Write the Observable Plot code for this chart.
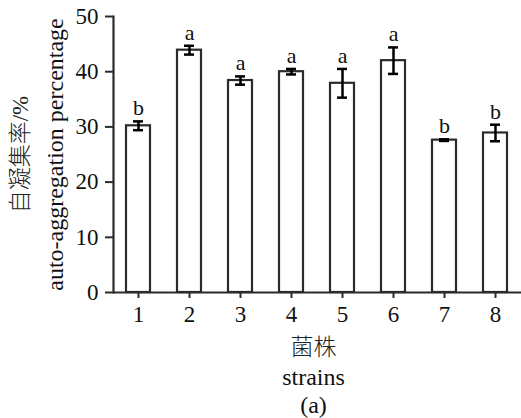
<!DOCTYPE html>
<html>
<head>
<meta charset="utf-8">
<script src="https://cdn.jsdelivr.net/npm/d3@7"></script>
<script src="https://cdn.jsdelivr.net/npm/@observablehq/plot@0.6"></script>
<style>
  html, body { margin: 0; padding: 0; background: #fff; }
  #chart svg { display: block; }
</style>
</head>
<body>
<div id="chart"></div>
<script>
const strains = ["1", "2", "3", "4", "5", "6", "7", "8"];
const means   = [30.2, 43.9, 38.4, 40.0, 37.9, 42.0, 27.6, 28.9];
const errs    = [0.8, 0.8, 0.75, 0.5, 2.6, 2.4, 0.15, 1.5];
const groups  = ["b", "a", "a", "a", "a", "a", "b", "b"];
const yTicks  = [0, 10, 20, 30, 40, 50];
const yLabelZh = "自凝集率/%";
const yLabelEn = "auto-aggregation percentage";
const xLabelZh = "菌株";
const xLabelEn = "strains";
const panel = "(a)";

const data = strains.map((s, i) => ({
  strain: s, mean: means[i], lo: means[i] - errs[i], hi: means[i] + errs[i], grp: groups[i]
}));

const font = "'Liberation Serif', 'Times New Roman', 'Noto Sans CJK SC', serif";
const ink = "#2b2b2b";

const chart = Plot.plot({
  width: 521,
  height: 418,
  marginLeft: 113,
  marginRight: 0,
  marginTop: 16,
  marginBottom: 126,
  style: { fontFamily: font, fontSize: "22px", color: "#111", background: "#fff" },
  x: { domain: strains, paddingInner: 0.52, paddingOuter: 0.25, label: null },
  y: { domain: [0, 50], label: null },
  marks: [
    Plot.barY(data, { x: "strain", y: "mean", fill: "white", stroke: ink, strokeWidth: 2.2 }),
    Plot.ruleX(data, { x: "strain", y1: "lo", y2: "hi", stroke: "#000", strokeWidth: 2.5 }),
    Plot.tickY(data, { x: "strain", y: "hi", stroke: "#000", strokeWidth: 2.5, insetLeft: 7, insetRight: 7 }),
    Plot.tickY(data, { x: "strain", y: "lo", stroke: "#000", strokeWidth: 2.5, insetLeft: 7, insetRight: 7 }),
    Plot.text(data, { x: "strain", y: "hi", text: "grp", dy: -6, lineAnchor: "bottom", fontSize: 22, fill: "#111" }),
    Plot.ruleY([0], { stroke: ink, strokeWidth: 2.2 }),
    Plot.frame({ anchor: "left", stroke: ink, strokeWidth: 2.2 }),
    Plot.axisY({ ticks: yTicks, tickSize: 8, tickPadding: 7, stroke: ink, strokeWidth: 2, label: null, fontSize: 23 }),
    Plot.axisX({ tickSize: 6, tickPadding: 7, stroke: ink, strokeWidth: 2, label: null, fontSize: 23 }),
    Plot.text([yLabelZh], { text: d => d, frameAnchor: "left", textAnchor: "middle", lineAnchor: "middle", rotate: -90, dx: -93, fontSize: 23, fontWeight: 300, fill: "#222" }),
    Plot.text([yLabelEn], { text: d => d, frameAnchor: "left", textAnchor: "middle", lineAnchor: "middle", rotate: -90, dx: -58, fontSize: 24, fill: "#111" }),
    Plot.text([xLabelZh], { text: d => d, frameAnchor: "bottom", textAnchor: "middle", lineAnchor: "middle", dy: 55, dx: -4, fontSize: 23, fontWeight: 300, fill: "#222" }),
    Plot.text([xLabelEn], { text: d => d, frameAnchor: "bottom", textAnchor: "middle", lineAnchor: "middle", dy: 85, dx: -4, fontSize: 24, fill: "#111" }),
    Plot.text([panel], { text: d => d, frameAnchor: "bottom", textAnchor: "middle", lineAnchor: "middle", dy: 113, dx: -4, fontSize: 24, fill: "#111" })
  ]
});
document.getElementById("chart").appendChild(chart);
</script>
</body>
</html>
